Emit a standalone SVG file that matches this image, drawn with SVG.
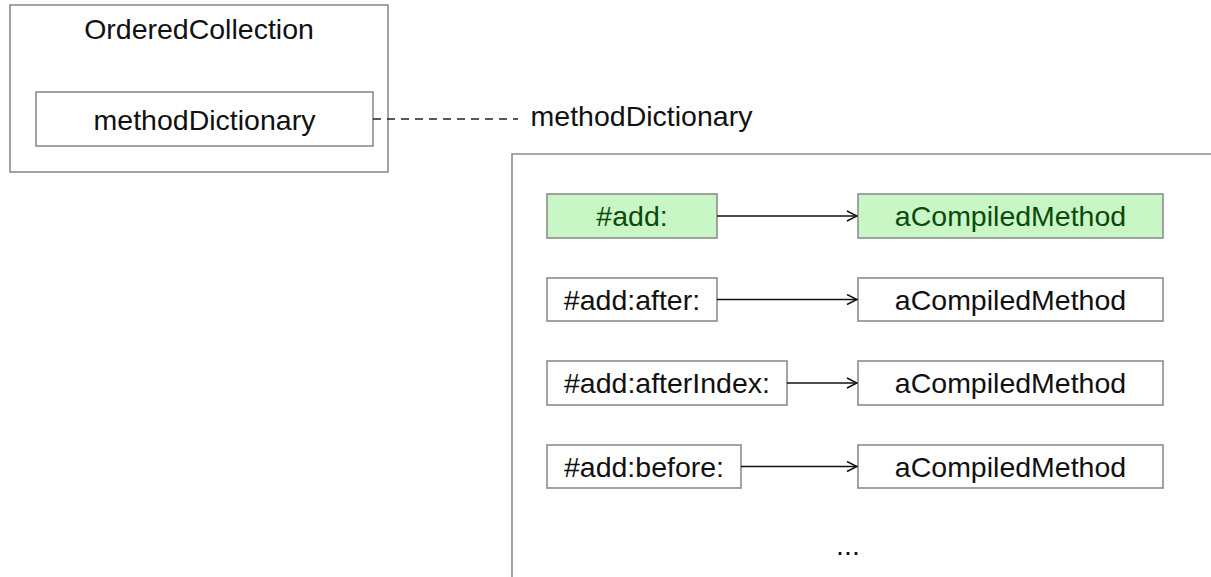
<svg xmlns="http://www.w3.org/2000/svg" width="1211" height="577" viewBox="0 0 1211 577">
  <style>
    .box { fill: #ffffff; stroke: #8c8c8c; stroke-width: 1.6; }
    .hl { fill: #c8f7c5; stroke: #8c8c8c; stroke-width: 1.6; }
    .t { font-family: "Liberation Sans", Arial, sans-serif; font-size: 28.5px; fill: #111; text-anchor: middle; }
    .tg { fill: #0b4a0b; }
    .link { fill: none; stroke: #111; stroke-width: 1.6; }
    .dash { fill: none; stroke: #222; stroke-width: 1.6; stroke-dasharray: 8 6; }
  </style>
  <defs>
    <marker id="open" viewBox="0 0 12 12" refX="11" refY="6" markerWidth="12" markerHeight="12" markerUnits="userSpaceOnUse" orient="auto">
      <path d="M1,1 L11,6 L1,11" fill="none" stroke="#111" stroke-width="1.5"/>
    </marker>
  </defs>
  <rect width="1211" height="577" fill="#ffffff"/>

  <!-- class object -->
  <g id="orderedCollection">
    <rect class="box" x="10" y="5" width="378" height="167"/>
    <text class="t" x="199" y="39">OrderedCollection</text>
  </g>
  <g id="methodDictionarySlot">
    <rect class="box" x="36" y="92" width="337" height="54"/>
    <text class="t" x="204.5" y="130">methodDictionary</text>
  </g>

  <!-- dictionary container -->
  <g id="dictionary">
    <path class="box" d="M512,580 L512,154 L1215,154" fill="none"/>
    <text class="t" x="641.5" y="126">methodDictionary</text>
    <text class="t" x="848" y="555">...</text>
  </g>

  <!-- entries -->
  <g id="key-add">
    <rect class="hl" x="547" y="194" width="170" height="44"/>
    <text class="t tg" x="632" y="226">#add:</text>
  </g>
  <g id="val-add">
    <rect class="hl" x="858" y="194" width="305" height="44"/>
    <text class="t tg" x="1010.5" y="226">aCompiledMethod</text>
  </g>
  <g id="key-addAfter">
    <rect class="box" x="547" y="278" width="170" height="43"/>
    <text class="t" x="632" y="310">#add:after:</text>
  </g>
  <g id="val-addAfter">
    <rect class="box" x="858" y="278" width="305" height="43"/>
    <text class="t" x="1010.5" y="310">aCompiledMethod</text>
  </g>
  <g id="key-addAfterIndex">
    <rect class="box" x="547" y="361" width="240" height="44"/>
    <text class="t" x="667" y="393">#add:afterIndex:</text>
  </g>
  <g id="val-addAfterIndex">
    <rect class="box" x="858" y="361" width="305" height="44"/>
    <text class="t" x="1010.5" y="393">aCompiledMethod</text>
  </g>
  <g id="key-addBefore">
    <rect class="box" x="547" y="445" width="194" height="43"/>
    <text class="t" x="644" y="477">#add:before:</text>
  </g>
  <g id="val-addBefore">
    <rect class="box" x="858" y="445" width="305" height="43"/>
    <text class="t" x="1010.5" y="477">aCompiledMethod</text>
  </g>

  <!-- connectors -->
  <g id="connectors">
    <line class="dash" x1="373" y1="119" x2="518" y2="119"/>
    <line class="link" x1="717" y1="216" x2="857" y2="216" marker-end="url(#open)"/>
    <line class="link" x1="717" y1="299.5" x2="857" y2="299.5" marker-end="url(#open)"/>
    <line class="link" x1="787" y1="383" x2="857" y2="383" marker-end="url(#open)"/>
    <line class="link" x1="741" y1="466.5" x2="857" y2="466.5" marker-end="url(#open)"/>
  </g>
</svg>
